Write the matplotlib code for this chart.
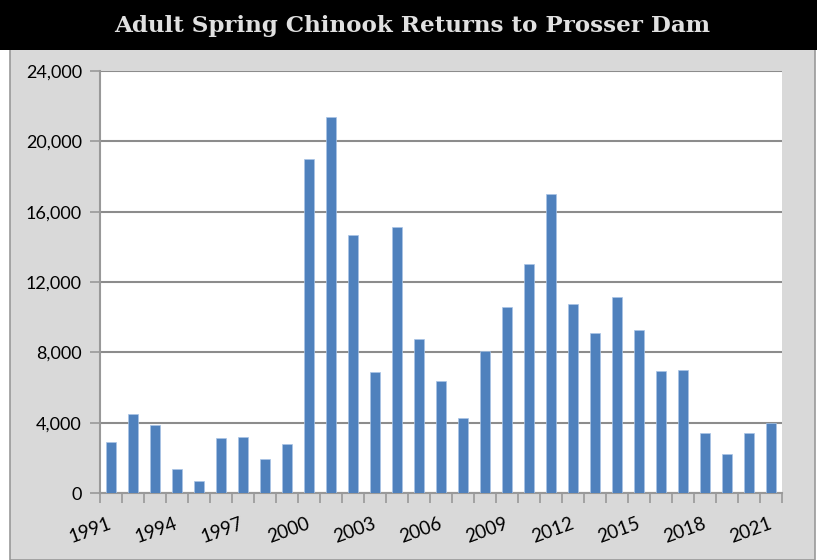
import matplotlib.pyplot as plt
import matplotlib.transforms as mtransforms
import numpy as np
from matplotlib.patches import Rectangle

years = list(range(1991, 2022))
returns = [2900, 4500, 3870, 1370, 680, 3100, 3200, 1930, 2800, 19000,
           21400, 14700, 6900, 15100, 8760, 6370, 4270, 8080, 10600, 13000,
           17000, 10750, 9100, 11150, 9270, 6940, 7000, 3410, 2200, 3400, 4000]
yticks = [0, 4000, 8000, 12000, 16000, 20000, 24000]
title = "Adult Spring Chinook Returns to Prosser Dam"

fig = plt.figure(figsize=(8.17, 5.6), dpi=100)
fig.patch.set_facecolor("white")

# gray panel and black title bar
fig.patches.append(Rectangle((10 / 817, 0), 805 / 817, 1, transform=fig.transFigure,
                             facecolor="#d9d9d9", edgecolor="#999999", lw=1.2, zorder=-2))
fig.patches.append(Rectangle((0, 1 - 50 / 560), 1, 50 / 560, transform=fig.transFigure,
                             facecolor="black", edgecolor="none", zorder=-1))
fig.text(412 / 817, 1 - 26 / 560, title, color="#e0e0e0", fontsize=16.6,
         fontweight="bold", family="DejaVu Serif", ha="center", va="center")

ax = fig.add_axes([100 / 817, 1 - 493 / 560, 682 / 817, 422 / 560])
ax.set_zorder(5)
ax.set_facecolor("white")

x = np.arange(len(years))
ax.bar(x, returns, width=0.42, color="#4f81bd", edgecolor="#a9c4e6", lw=0.5, zorder=3)

ax.set_xlim(-0.5, len(years) - 0.5)
ax.set_ylim(0, 24000)
ax.set_yticks(yticks)
ax.set_yticklabels([f"{v:,}" for v in yticks], fontsize=13, family="Lato")
ax.yaxis.grid(True, color="#8c8c8c", lw=1.5, zorder=0)

# category boundary ticks, year labels every 3rd bar
ax.set_xticks(np.arange(-0.5, len(years), 1))
ax.set_xticklabels([])
trans = ax.get_xaxis_transform() + mtransforms.ScaledTranslation(-3 / 100, -22 / 100, fig.dpi_scale_trans)
for xi, yr in zip(x[::3], years[::3]):
    ax.text(xi, 0, str(yr), transform=trans, rotation=20, rotation_mode="anchor",
            ha="right", va="top", fontsize=13.5, family="Lato", clip_on=False)

ax.tick_params(axis="x", which="major", length=7, color="#999999", width=1.2)
ax.tick_params(axis="y", length=7, color="#999999", width=1.2, pad=6)

for s in ["top", "right"]:
    ax.spines[s].set_visible(False)
for s in ["left", "bottom"]:
    ax.spines[s].set_color("#999999")
    ax.spines[s].set_linewidth(1.5)

fig.savefig("out.png", dpi=100)
